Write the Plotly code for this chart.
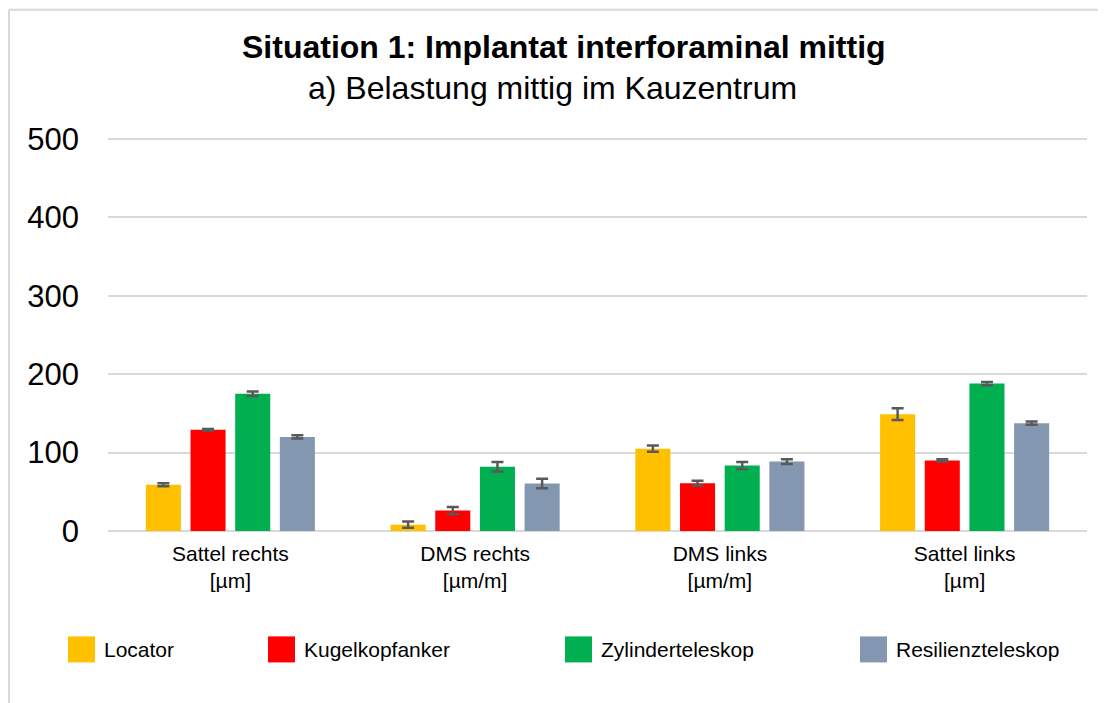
import plotly.graph_objects as go

categories = ["Sattel rechts<br>[µm]", "DMS rechts<br>[µm/m]", "DMS links<br>[µm/m]", "Sattel links<br>[µm]"]
series_names = ["Locator", "Kugelkopfanker", "Zylinderteleskop", "Resilienzteleskop"]
colors = ["#FFC000", "#FF0000", "#00B050", "#8497B0"]

locator = [59, 8, 105, 149]
locator_err = [2, 4, 4, 7.5]
kugelkopfanker = [129, 26, 61, 90]
kugelkopfanker_err = [1, 4.5, 3, 1.5]
zylinderteleskop = [175, 82, 83.5, 188]
zylinderteleskop_err = [3, 6, 4.5, 2]
resilienzteleskop = [120, 60.5, 88.5, 137.5]
resilienzteleskop_err = [2, 6, 3, 2]

y_ticks = [0, 100, 200, 300, 400, 500]

values = [locator, kugelkopfanker, zylinderteleskop, resilienzteleskop]
errors = [locator_err, kugelkopfanker_err, zylinderteleskop_err, resilienzteleskop_err]

OFF = 8  # page body margin
W, H = 1106 - OFF, 703 - OFF
YMAX = 505
UNIT = (530.7 - 139) / 500.0
L, R, B = 108 - OFF, 1087 - OFF, 530.7 - OFF
T = B - YMAX * UNIT

def px(x):
    return (x - OFF - L) / (R - L)

def py(y):
    return (B - (y - OFF)) / (B - T)

FONT = "Liberation Sans, Arial, sans-serif"

fig = go.Figure()
for name, col, v, e in zip(series_names, colors, values, errors):
    fig.add_trace(go.Bar(
        x=categories, y=v, name=name,
        marker=dict(color=col, line=dict(width=0)),
        error_y=dict(type="data", array=e, visible=True, color="#595959", thickness=2.5, width=6),
        showlegend=False,
    ))

shapes = [
    dict(type="line", xref="paper", yref="paper", x0=px(9), x1=px(1120), y0=py(10), y1=py(10),
         line=dict(color="#d9d9d9", width=2)),
    dict(type="line", xref="paper", yref="paper", x0=px(9), x1=px(9), y0=py(10), y1=py(720),
         line=dict(color="#d9d9d9", width=2)),
]
annotations = [
    dict(text="<b>Situation 1: Implantat interforaminal mittig</b>", xref="paper", yref="paper",
         x=px(563.5), y=py(47), xanchor="center", yanchor="middle", showarrow=False,
         font=dict(family=FONT, size=32, color="#000000")),
    dict(text="a) Belastung mittig im Kauzentrum", xref="paper", yref="paper",
         x=px(552.5), y=py(88), xanchor="center", yanchor="middle", showarrow=False,
         font=dict(family=FONT, size=32, color="#000000")),
]

legend_sq_x = [68, 268, 565, 860]
for name, col, sx in zip(series_names, colors, legend_sq_x):
    shapes.append(dict(type="rect", xref="paper", yref="paper",
                       x0=px(sx), x1=px(sx + 27), y0=py(662), y1=py(636),
                       fillcolor=col, line=dict(width=0)))
    annotations.append(dict(text=name, xref="paper", yref="paper", x=px(sx + 34), y=py(649),
                            xanchor="left", yanchor="middle", showarrow=False,
                            font=dict(family=FONT, size=21, color="#000000")))

fig.update_layout(
    width=W, height=H,
    margin=dict(l=L, r=W - R, t=T, b=H - B, pad=0),
    paper_bgcolor="white", plot_bgcolor="white",
    barmode="group", bargap=0.27, bargroupgap=0.215,
    font=dict(family=FONT, color="#000000"),
    shapes=shapes, annotations=annotations,
    xaxis=dict(showgrid=False, showline=False, ticks="", tickfont=dict(size=21, color="#000000"),
               zeroline=False, ticklabelstandoff=8),
    yaxis=dict(range=[0, YMAX], tickvals=y_ticks, showgrid=True, gridcolor="#d9d9d9", gridwidth=2,
               zeroline=True, zerolinecolor="#d9d9d9", zerolinewidth=2, showline=False,
               ticks="", tickfont=dict(size=31, color="#000000"), ticklabelstandoff=28),
)

fig.write_html("out.html")
